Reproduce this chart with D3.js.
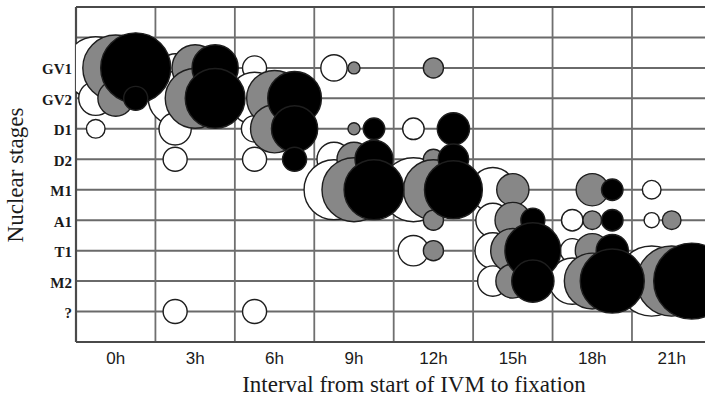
<!DOCTYPE html>
<html><head><meta charset="utf-8">
<script src="https://cdn.jsdelivr.net/npm/d3@7"></script>
<style>html,body{margin:0;padding:0;background:#fff;} svg{display:block;}</style>
</head><body>
<svg id="chart" width="705" height="397"></svg>
<script>
// ---- data ----
const times = ["0h","3h","6h","9h","12h","15h","18h","21h"];
const stages = ["GV1","GV2","D1","D2","M1","A1","T1","M2","?"];
const seriesNames = ["white","gray","black"];
const seriesFills = ["#ffffff","#878787","#000000"];
// [time, stage, percent of oocytes]
const whiteValues = [
 ["0h","GV1",67],["0h","GV2",20],["0h","D1",6],
 ["3h","GV1",14],["3h","GV2",50],["3h","D1",18],["3h","D2",10],["3h","?",10],
 ["6h","GV1",10],["6h","GV2",47],["6h","D1",12],["6h","D2",10],["6h","?",10],
 ["9h","GV1",12],["9h","D2",20],["9h","M1",62],
 ["12h","D1",8],["12h","M1",71],["12h","T1",16],
 ["15h","M1",34],["15h","A1",20],["15h","T1",22],["15h","M2",16],
 ["18h","A1",8],["18h","T1",10],["18h","M2",37],
 ["21h","M1",6],["21h","A1",4],["21h","M2",85]
];
const grayValues = [
 ["0h","GV1",75],["0h","GV2",22],
 ["3h","GV1",37],["3h","GV2",62],
 ["6h","GV2",54],["6h","D1",40],
 ["9h","GV1",2.5],["9h","D1",2.5],["9h","D2",20],["9h","M1",71],
 ["12h","GV1",7],["12h","D2",7],["12h","M1",62],["12h","A1",7],["12h","T1",7],
 ["15h","M1",18],["15h","A1",22],["15h","T1",34],["15h","M2",20],
 ["18h","M1",18],["18h","A1",6],["18h","T1",20],["18h","M2",54],
 ["21h","A1",6],["21h","M2",85]
];
const blackValues = [
 ["0h","GV1",85],["0h","GV2",10],
 ["3h","GV1",37],["3h","GV2",62],
 ["6h","GV2",50],["6h","D1",37],["6h","D2",10],
 ["9h","D1",8],["9h","D2",25],["9h","M1",62],
 ["12h","D1",18],["12h","D2",16],["12h","M1",58],
 ["15h","A1",10],["15h","T1",54],["15h","M2",31],
 ["18h","M1",8],["18h","A1",8],["18h","T1",18],["18h","M2",71],
 ["21h","M2",100]
];
const xTitle = "Interval from start of IVM to fixation";
const yTitle = "Nuclear stages";

// ---- layout ----
const svg = d3.select("#chart");
const plotLeft = 76, plotRight = 711.4, plotTop = 7, plotBottom = 342;
const step = (plotBottom - plotTop) / 11;

const x = d3.scaleBand().domain(times).range([plotLeft, plotRight]);
const off = d3.scalePoint().domain(seriesNames).range([-20, 20]);
const y = d3.scalePoint().domain(stages).range([plotTop + 2*step, plotBottom - step]);
const r = d3.scaleSqrt().domain([0, 100]).range([0, 38]);

svg.append("defs").append("clipPath").attr("id","plotclip")
  .append("rect").attr("x",plotLeft).attr("y",plotTop)
  .attr("width",plotRight-plotLeft).attr("height",plotBottom-plotTop);

// grid
const grid = svg.append("g");
const hLines = [y(stages[0]) - step].concat(stages.map(s => y(s)));
grid.selectAll("line.h").data(hLines).join("line")
  .attr("x1", plotLeft).attr("x2", 705).attr("y1", d => d).attr("y2", d => d)
  .attr("stroke", "#6a6a6a").attr("stroke-width", 2);
grid.selectAll("line.v").data(times.slice(1)).join("line")
  .attr("x1", d => x(d)).attr("x2", d => x(d)).attr("y1", plotTop).attr("y2", plotBottom)
  .attr("stroke", "#6f6f6f").attr("stroke-width", 1.8);
// borders
grid.append("line").attr("x1",plotLeft).attr("x2",705).attr("y1",plotTop).attr("y2",plotTop)
  .attr("stroke","#4a4a4a").attr("stroke-width",2);
grid.append("line").attr("x1",plotLeft).attr("x2",705).attr("y1",plotBottom).attr("y2",plotBottom)
  .attr("stroke","#4a4a4a").attr("stroke-width",2.2);
grid.append("line").attr("x1",plotLeft).attr("x2",plotLeft).attr("y1",plotTop).attr("y2",plotBottom)
  .attr("stroke","#4a4a4a").attr("stroke-width",2.2);

// bubbles
const seriesData = [whiteValues, grayValues, blackValues];
const bub = svg.append("g").attr("clip-path","url(#plotclip)");
seriesData.forEach((data, i) => {
  bub.append("g").selectAll("circle").data(data).join("circle")
    .attr("cx", d => x(d[0]) + x.bandwidth()/2 + off(seriesNames[i]))
    .attr("cy", d => y(d[1]))
    .attr("r", d => r(d[2]))
    .attr("fill", seriesFills[i])
    .attr("stroke", "#1e1e1e")
    .attr("stroke-width", 1.4);
});

// axes
const xAxis = svg.append("g").attr("transform", `translate(0,${plotBottom})`)
  .call(d3.axisBottom(x).tickSize(0).tickPadding(10));
xAxis.select(".domain").remove();
xAxis.selectAll("text").attr("font-family","'Liberation Sans', Arial, sans-serif")
  .attr("font-size", 17).attr("fill","#1a1a1a");

const yAxis = svg.append("g").attr("transform", `translate(72,0)`)
  .call(d3.axisLeft(y).tickSize(0).tickPadding(0));
yAxis.select(".domain").remove();
yAxis.selectAll("text").attr("font-family","'Liberation Serif', 'Times New Roman', serif")
  .attr("font-size", 15).attr("font-weight","bold").attr("fill","#1a1a1a").attr("dy","0.4em");

svg.append("text").attr("x", 414).attr("y", 392).attr("text-anchor","middle")
  .attr("font-family","'Liberation Serif', 'Times New Roman', serif").attr("font-size", 23)
  .attr("fill","#1a1a1a").text(xTitle);
svg.append("text").attr("transform", `translate(23,175) rotate(-90)`).attr("text-anchor","middle")
  .attr("font-family","'Liberation Serif', 'Times New Roman', serif").attr("font-size", 23)
  .attr("fill","#1a1a1a").text(yTitle);
</script>
</body></html>
